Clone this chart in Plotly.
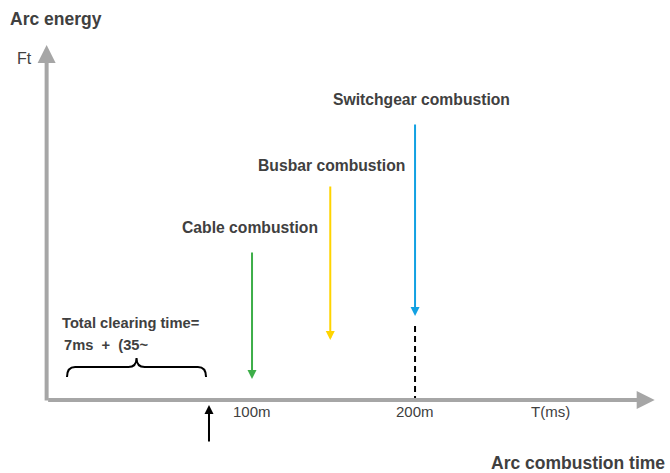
import plotly.graph_objects as go

# ---- data (schematic units: time in ms, energy in arbitrary units) ----
x_ticks = [100, 200]
x_tick_labels = ["100m", "200m"]
x_axis_title = "T(ms)"

events = ["Cable combustion", "Busbar combustion", "Switchgear combustion"]
event_time = [100, 148, 200]
event_start = [149, 215, 277]
event_end = [21, 60, 84]
event_label_time = [98.8, 149, 204]
event_label_energy = [173, 235, 301]
event_colors = ["#3dae49", "#ffd400", "#12a1e2"]

clearing_time = 73.6
clearing_lines = ["Total clearing time=", "7ms  +  (35~"]
brace_span = [-13.5, 71.8]

dashed_time = 200
dashed_top = 74

origin = [-26, 0]
x_axis_end = 347
y_axis_end = 355

FONT = "Liberation Sans, Arial, sans-serif"
TXT = "#404040"
AX = "#a6a6a6"

fig = go.Figure()

# dashed black line at 200 ms
fig.add_trace(go.Scatter(x=[dashed_time, dashed_time], y=[dashed_top, origin[1]],
                         mode="lines", line=dict(color="black", width=2, dash="6px,4px"),
                         hoverinfo="skip", showlegend=False))

ann = []
# axes arrows
ann.append(dict(x=x_axis_end, y=origin[1], ax=origin[0], ay=origin[1],
                xref="x", yref="y", axref="x", ayref="y", text="", showarrow=True,
                arrowhead=2, arrowsize=0.9, arrowwidth=4, arrowcolor=AX))
ann.append(dict(x=origin[0], y=y_axis_end, ax=origin[0], ay=origin[1] - 2,
                xref="x", yref="y", axref="x", ayref="y", text="", showarrow=True,
                arrowhead=2, arrowsize=0.9, arrowwidth=4, arrowcolor=AX))

# event arrows and labels
for name, t, s, e, lt, le, c in zip(events, event_time, event_start, event_end,
                                    event_label_time, event_label_energy, event_colors):
    ann.append(dict(x=t, y=e, ax=t, ay=s, xref="x", yref="y", axref="x", ayref="y",
                    text="", showarrow=True, arrowhead=2, arrowsize=0.9,
                    arrowwidth=2, arrowcolor=c))
    ann.append(dict(x=lt, y=le, xref="x", yref="y", text="<b>%s</b>" % name,
                    showarrow=False, font=dict(family=FONT, size=15.7, color=TXT)))

# clearing time arrow
ann.append(dict(x=clearing_time, y=-5, ax=clearing_time, ay=-43,
                xref="x", yref="y", axref="x", ayref="y", text="", showarrow=True,
                arrowhead=2, arrowsize=0.9, arrowwidth=2, arrowcolor="black"))

# clearing text
ann.append(dict(x=-18, y=77, xref="x", yref="y", text="<b>%s</b>" % clearing_lines[0],
                showarrow=False, xanchor="left", font=dict(family=FONT, size=14.7, color=TXT)))
ann.append(dict(x=-16.6, y=55, xref="x", yref="y", text="<b>%s</b>" % clearing_lines[1],
                showarrow=False, xanchor="left", font=dict(family=FONT, size=14.7, color=TXT)))

# tick labels
for t, lab in zip(x_ticks, x_tick_labels):
    ann.append(dict(x=t, y=-11, xref="x", yref="y", text=lab, showarrow=False,
                    font=dict(family=FONT, size=15, color=TXT)))
ann.append(dict(x=282.8, y=-11, xref="x", yref="y", text=x_axis_title, showarrow=False,
                font=dict(family=FONT, size=15, color=TXT)))

# axis titles
ann.append(dict(x=-49.5, y=381, xref="x", yref="y", text="<b>Arc energy</b>", showarrow=False,
                xanchor="left", font=dict(family=FONT, size=17.5, color=TXT)))
ann.append(dict(x=-39.3, y=342, xref="x", yref="y", text="Ft", showarrow=False,
                font=dict(family=FONT, size=16, color=TXT)))
ann.append(dict(x=-62.5, y=-63, xref="x", yref="y", text="<b>Arc combustion time</b>",
                showarrow=False, xanchor="right", font=dict(family=FONT, size=17.5, color=TXT)))
ann[-1]["x"] = 354.6

# brace path
t0, t1 = brace_span
mid = (t0 + t1) / 2
r = 5
path = (f"M{t0},23 Q{t0},33 {t0 + r},33 L{mid - r},33 Q{mid},33 {mid},42 "
        f"Q{mid},33 {mid + r},33 L{t1 - r},33 Q{t1},33 {t1},23")
fig.add_shape(type="path", path=path, xref="x", yref="y",
              line=dict(color="black", width=2))

fig.update_layout(
    width=670, height=473, margin=dict(l=0, r=0, t=0, b=0),
    paper_bgcolor="white", plot_bgcolor="white",
    xaxis=dict(range=[-54.6, 356.4], visible=False, fixedrange=True),
    yaxis=dict(range=[-73, 400], visible=False, fixedrange=True),
    annotations=ann, showlegend=False,
)

fig.write_html("out.html", config={"displayModeBar": False},
               post_script="document.body.style.margin='0';")
